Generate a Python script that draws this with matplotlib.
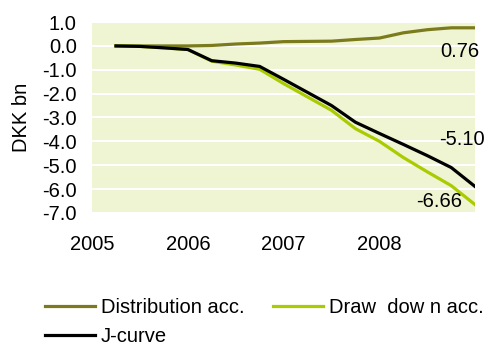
import matplotlib.pyplot as plt

plt.rcParams['font.family'] = ['Liberation Sans', 'DejaVu Sans']
plt.rcParams['font.size'] = 14.5

# quarter ends, 2005Q1 .. 2008Q4 (in decimal years)
quarters = [2005.25, 2005.5, 2005.75, 2006.0, 2006.25, 2006.5, 2006.75, 2007.0,
            2007.25, 2007.5, 2007.75, 2008.0, 2008.25, 2008.5, 2008.75, 2009.0]

# DKK bn, accumulated
distribution = [0.0, 0.0, 0.0, 0.0, 0.02, 0.08, 0.12, 0.18,
                0.19, 0.20, 0.27, 0.33, 0.55, 0.68, 0.76, 0.76]
drawdown = [0.0, -0.02, -0.08, -0.15, -0.64, -0.80, -0.98, -1.58,
            -2.14, -2.70, -3.47, -4.00, -4.68, -5.28, -5.86, -6.66]
jcurve = [0.0, -0.02, -0.08, -0.15, -0.62, -0.72, -0.86, -1.40,
          -1.95, -2.50, -3.20, -3.67, -4.13, -4.60, -5.10, -5.90]

year_ticks = [2005, 2006, 2007, 2008]
y_ticks = [1, 0, -1, -2, -3, -4, -5, -6, -7]

c_dist = '#7b7b1e'
c_draw = '#aacb00'
c_j = '#000000'

fig = plt.figure(figsize=(4.95, 3.45), dpi=100)
ax = fig.add_axes([0.186, 0.383, 0.774, 0.553])
ax.set_facecolor('#eff4d3')

l_dist, = ax.plot(quarters, distribution, color=c_dist, lw=2.3)
l_draw, = ax.plot(quarters, drawdown, color=c_draw, lw=2.3)
l_j, = ax.plot(quarters, jcurve, color=c_j, lw=2.3)

ax.set_xlim(2005, 2009)
ax.set_ylim(-7, 1)
ax.set_xticks(year_ticks)
ax.set_xticklabels([str(y) for y in year_ticks])
ax.set_yticks(y_ticks)
ax.set_yticklabels([f'{v:.1f}' for v in y_ticks])
ax.tick_params(length=0)
ax.tick_params(axis='y', pad=11)
ax.tick_params(axis='x', pad=16)
ax.grid(axis='y', color='white', lw=1.5)
ax.set_axisbelow(True)
for s in ax.spines.values():
    s.set_visible(False)
ax.set_ylabel('DKK bn', labelpad=8)

# data labels
ax.annotate(f'{distribution[-1]:.2f}', (quarters[-1], distribution[-1]),
            xytext=(-11, -17), textcoords='offset points', ha='center', va='center')
ax.annotate(f'{jcurve[-2]:.2f}', (quarters[-2], jcurve[-2]),
            xytext=(8, 20), textcoords='offset points', ha='center', va='center')
ax.annotate(f'{drawdown[-1]:.2f}', (quarters[-1], drawdown[-1]),
            xytext=(-26, 2), textcoords='offset points', ha='center', va='center')

# column-major fill: gives row 1 = distribution, draw down; row 2 = J-curve
fig.legend([l_dist, l_j, l_draw], ['Distribution acc.', 'J-curve', 'Draw  dow n acc.'],
           loc='upper left', bbox_to_anchor=(0.09, 0.135), ncol=2, frameon=False,
           handlelength=2.5, handletextpad=0.3, columnspacing=1.4,
           labelspacing=0.5, borderaxespad=0, borderpad=0)

fig.savefig('out.png', dpi=100)
